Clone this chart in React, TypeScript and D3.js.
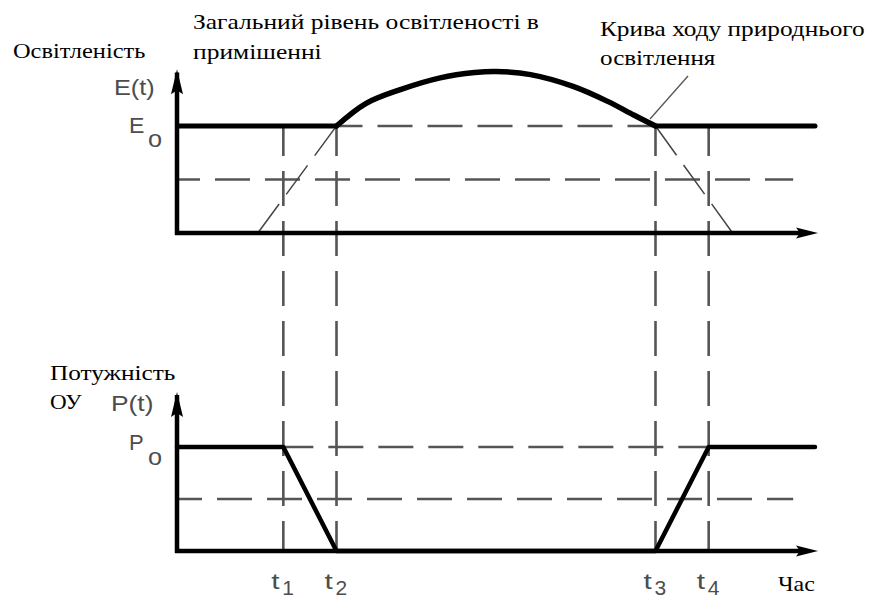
import React from "react";
import * as d3 from "d3";

// ---- data ----
const timeMarks = [2, 3, 9, 10];
const timeSubs = ["1", "2", "3", "4"];
const naturalT = [1.52, 3, 3.55, 4.2, 4.95, 5.6, 6.0, 6.65, 7.45, 8.1, 8.6, 9, 10.45];
const naturalE = [0, 1, 1.21, 1.34, 1.45, 1.5, 1.51, 1.48, 1.37, 1.23, 1.1, 1, 0];
const powerT = [0, 2, 3, 9, 10, 12];
const powerP = [1, 1, 0, 0, 1, 1];
const baseLevel = 1;
const halfLevel = 0.5;
const tMax = 12;
const halfDashEnd = 11.59;

const W = 878;
const H = 602;

type TProps = {
  x: number;
  y: number;
  sx: number;
  size: number;
  family: string;
  gray?: boolean;
  children: React.ReactNode;
};

function T({ x, y, sx, size, family, gray, children }: TProps) {
  return (
    <text
      x={x}
      y={y}
      fontFamily={family}
      fontSize={size}
      fill={gray ? "#4d4d4d" : "black"}
      transform={`translate(${x},${y}) scale(${sx},1) translate(${-x},${-y})`}
    >
      {children}
    </text>
  );
}

export default function App() {
  const x = d3.scaleLinear().domain([0, tMax]).range([177, 815]);
  const yE = d3.scaleLinear().domain([0, 1]).range([233, 126]);
  const yP = d3.scaleLinear().domain([0, 1]).range([551, 447]);

  const nat = naturalT.map((t, i) => [t, naturalE[i]] as [number, number]);
  const first = nat.findIndex((d) => d[1] >= baseLevel);
  let last = -1;
  nat.forEach((d, i) => {
    if (d[1] >= baseLevel) last = i;
  });
  const thick = nat.slice(first, last + 1);
  const thinLeft = nat.slice(0, first + 1);
  const thinRight = nat.slice(last);

  const curveGen = d3
    .line<[number, number]>()
    .x((d) => x(d[0]))
    .y((d) => yE(d[1]))
    .curve(d3.curveCatmullRom.alpha(0.5));
  const straightE = d3
    .line<[number, number]>()
    .x((d) => x(d[0]))
    .y((d) => yE(d[1]));
  const powerLine = d3
    .line<[number, number]>()
    .x((d) => x(d[0]))
    .y((d) => yP(d[1]));
  const powerPts = powerT.map((t, i) => [t, powerP[i]] as [number, number]);

  const t2 = thick[0][0];
  const t3 = thick[thick.length - 1][0];

  const dashColor = "#555";
  const SERIF = "Liberation Serif";
  const SANS = "Liberation Sans";

  const xArrow = (y: number) =>
    `M${x(tMax) + 3},${y} L${x(tMax) - 19},${y - 5.5} L${x(tMax) - 15},${y} L${x(tMax) - 19},${y + 5.5} Z`;
  const yArrow = (yTip: number) =>
    `M${x(0)},${yTip} L${x(0) - 6},${yTip + 25} L${x(0)},${yTip + 21} L${x(0) + 6},${yTip + 25} Z`;

  return (
    <svg width={W} height={H} style={{ display: "block", position: "absolute", left: 0, top: 0 }}>
      <rect width={W} height={H} fill="#fff" />

      {timeMarks.map((t, i) => (
        <line key={"v" + i} x1={x(t)} x2={x(t)} y1={yE(baseLevel)} y2={yP(0)} stroke={dashColor} strokeWidth={2.6} strokeDasharray="35,15" strokeDashoffset={5} />
      ))}

      <line x1={x(t2)} x2={x(t3)} y1={yE(baseLevel)} y2={yE(baseLevel)} stroke={dashColor} strokeWidth={2.6} strokeDasharray="35,15" strokeDashoffset={9} />
      <line x1={x(0)} x2={x(halfDashEnd)} y1={yE(halfLevel)} y2={yE(halfLevel)} stroke={dashColor} strokeWidth={2.6} strokeDasharray="35,15" strokeDashoffset={12} />
      <line x1={x(timeMarks[0])} x2={x(timeMarks[3])} y1={yP(baseLevel)} y2={yP(baseLevel)} stroke={dashColor} strokeWidth={2.6} strokeDasharray="35,15" strokeDashoffset={5} />
      <line x1={x(0)} x2={x(halfDashEnd)} y1={yP(halfLevel)} y2={yP(halfLevel)} stroke={dashColor} strokeWidth={2.6} strokeDasharray="35,15" strokeDashoffset={10} />

      <path d={straightE(thinLeft) || ""} fill="none" stroke="#444" strokeWidth={1.5} strokeDasharray="36,12" />
      <path d={straightE(thinRight) || ""} fill="none" stroke="#444" strokeWidth={1.5} strokeDasharray="36,12" />

      <line x1={688} x2={650} y1={76} y2={119} stroke="#555" strokeWidth={1.3} />

      <line x1={x(0)} x2={x(0)} y1={yE(0) + 2} y2={yE(1.5)} stroke="#000" strokeWidth={4.5} />
      <line x1={x(0) - 2} x2={x(tMax) - 14} y1={yE(0)} y2={yE(0)} stroke="#000" strokeWidth={4.5} />
      <path d={xArrow(yE(0))} fill="#000" />
      <path d={yArrow(yE(1.53))} fill="#000" />

      <line x1={x(0)} x2={x(t2)} y1={yE(baseLevel)} y2={yE(baseLevel)} stroke="#000" strokeWidth={5} />
      <line x1={x(t3)} x2={x(tMax)} y1={yE(baseLevel)} y2={yE(baseLevel)} stroke="#000" strokeWidth={5} strokeLinecap="round" />
      <path d={curveGen(thick) || ""} fill="none" stroke="#000" strokeWidth={5.5} strokeLinecap="round" />

      <line x1={x(0)} x2={x(0)} y1={yP(0) + 2} y2={yP(1.5)} stroke="#000" strokeWidth={4.5} />
      <line x1={x(0) - 2} x2={x(tMax) - 14} y1={yP(0)} y2={yP(0)} stroke="#000" strokeWidth={4.5} />
      <path d={xArrow(yP(0))} fill="#000" />
      <path d={yArrow(yP(1.53))} fill="#000" />

      <path d={powerLine(powerPts) || ""} fill="none" stroke="#000" strokeWidth={4.5} strokeLinejoin="round" strokeLinecap="round" />

      {/* serif labels */}
      <T x={13} y={58} sx={1.11} size={22} family={SERIF}>Освітленість</T>
      <T x={193} y={29} sx={1.16} size={22} family={SERIF}>Загальний рівень освітленості в</T>
      <T x={193} y={59} sx={1.16} size={22} family={SERIF}>примішенні</T>
      <T x={600} y={36} sx={1.15} size={22} family={SERIF}>Крива ходу природнього</T>
      <T x={600} y={65} sx={1.14} size={22} family={SERIF}>освітлення</T>
      <T x={50} y={380} sx={1.15} size={22} family={SERIF}>Потужність</T>
      <T x={50} y={409} sx={1.05} size={22} family={SERIF}>ОУ</T>
      <T x={778} y={591} sx={1.2} size={20} family={SERIF}>Час</T>

      {/* sans math labels */}
      <T x={114} y={95} sx={1.15} size={22} family={SANS} gray>E(t)</T>
      <T x={129} y={133} sx={1.05} size={22} family={SANS} gray>E</T>
      <T x={148} y={147} sx={1.1} size={23} family={SANS} gray>o</T>
      <T x={111} y={411} sx={1.2} size={22} family={SANS} gray>P(t)</T>
      <T x={129} y={450} sx={1.0} size={22} family={SANS} gray>P</T>
      <T x={148} y={465} sx={1.1} size={23} family={SANS} gray>o</T>
      {timeMarks.map((t, i) => (
        <g key={"tl" + i}>
          <T x={x(t) - 12} y={589} sx={1.35} size={22} family={SANS} gray>t</T>
          <T x={x(t) - 1} y={595} sx={1.05} size={20} family={SANS} gray>{timeSubs[i]}</T>
        </g>
      ))}
    </svg>
  );
}
